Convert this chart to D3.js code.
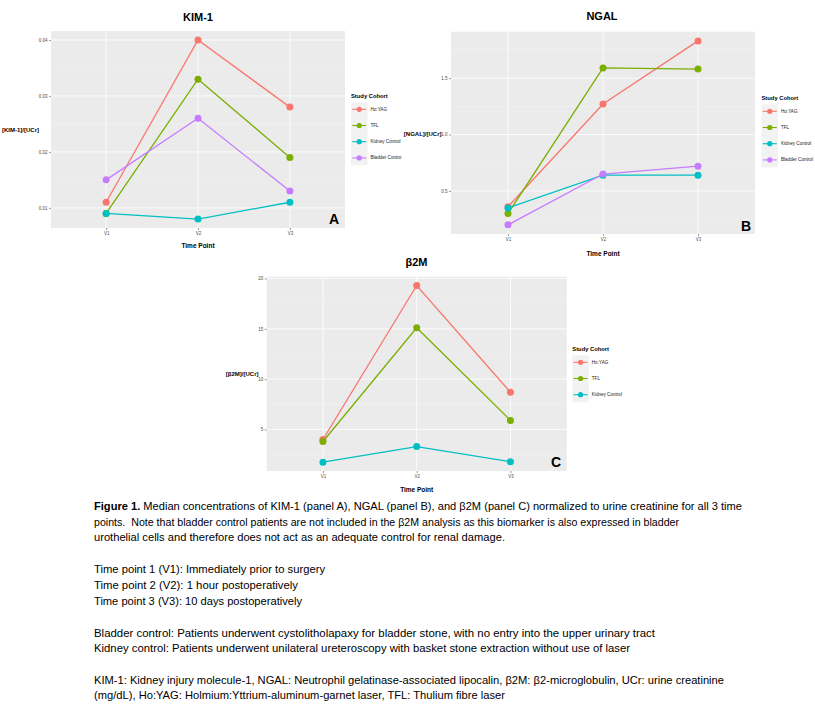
<!DOCTYPE html>
<html>
<head>
<meta charset="utf-8">
<script src="https://cdn.jsdelivr.net/npm/d3@7"></script>
<style>
  html, body { margin: 0; padding: 0; background: #ffffff; }
  svg { display: block; }
</style>
</head>
<body>
<svg id="chart" width="815" height="710"></svg>
<script>
// ---------------- DATA ----------------
const categories = ["V1", "V2", "V3"];
const cohortNames = ["Ho:YAG", "TFL", "Kidney Control", "Bladder Control"];
const cohortColors = ["#F8766D", "#7CAE00", "#00BFC4", "#C77CFF"];
const legendLabelsA = ["Ho:YAG", "TFL", "Kidney Control", "Bladder Contro"];
const legendLabelsB = ["Ho:YAG", "TFL", "Kidney Control", "Bladder Control"];
const legendLabelsC = ["Ho:YAG", "TFL", "Kidney Control"];

// Panel A: KIM-1
const kimHoYAG   = [0.011, 0.040, 0.028];
const kimTFL     = [0.009, 0.033, 0.019];
const kimKidney  = [0.009, 0.008, 0.011];
const kimBladder = [0.015, 0.026, 0.013];
const kimTicks   = [0.01, 0.02, 0.03, 0.04];

// Panel B: NGAL
const ngalHoYAG   = [0.36, 1.27, 1.83];
const ngalTFL     = [0.30, 1.59, 1.58];
const ngalKidney  = [0.35, 0.64, 0.64];
const ngalBladder = [0.20, 0.65, 0.72];
const ngalTicks   = [0.5, 1.0, 1.5];

// Panel C: beta2M
const b2mHoYAG  = [4.0, 19.3, 8.7];
const b2mTFL    = [3.8, 15.1, 5.9];
const b2mKidney = [1.75, 3.3, 1.8];
const b2mTicks  = [5, 10, 15, 20];

const captionLines = [
  {bold: "Figure 1.", text: " Median concentrations of KIM-1 (panel A), NGAL (panel B), and \u03B22M (panel C) normalized to urine creatinine for all 3 time"},
  {bold: "", text: "points.  Note that bladder control patients are not included in the \u03B22M analysis as this biomarker is also expressed in bladder"},
  {bold: "", text: "urothelial cells and therefore does not act as an adequate control for renal damage."},
  {bold: "", text: "Time point 1 (V1): Immediately prior to surgery"},
  {bold: "", text: "Time point 2 (V2): 1 hour postoperatively"},
  {bold: "", text: "Time point 3 (V3): 10 days postoperatively"},
  {bold: "", text: "Bladder control: Patients underwent cystolitholapaxy for bladder stone, with no entry into the upper urinary tract"},
  {bold: "", text: "Kidney control: Patients underwent unilateral ureteroscopy with basket stone extraction without use of laser"},
  {bold: "", text: "KIM-1: Kidney injury molecule-1, NGAL: Neutrophil gelatinase-associated lipocalin, \u03B22M: \u03B22-microglobulin, UCr: urine creatinine"},
  {bold: "", text: "(mg/dL), Ho:YAG: Holmium:Yttrium-aluminum-garnet laser, TFL: Thulium fibre laser"}
];

// ---------------- LAYOUT ----------------
const svg = d3.select("#chart");
const FONT = "Liberation Sans, Arial, sans-serif";

const panels = [
  {
    title: "KIM-1", yTitle: "[KIM-1]/[UCr]", letter: "A",
    series: [kimHoYAG, kimTFL, kimKidney, kimBladder], ticks: kimTicks,
    fmt: d3.format(".2f"), legend: legendLabelsA,
    box: {l: 51, r: 345, t: 31, b: 228},
    titlePos: [198, 17], xTitleY: 245, yTitlePos: [39, 130], letterPos: [334, 219],
    legendPos: [351, 96.3]
  },
  {
    title: "NGAL", yTitle: "[NGAL]/[UCr]", letter: "B",
    series: [ngalHoYAG, ngalTFL, ngalKidney, ngalBladder], ticks: ngalTicks,
    fmt: d3.format(".1f"), legend: legendLabelsB,
    box: {l: 451, r: 755, t: 31.7, b: 234},
    titlePos: [602, 16], xTitleY: 253, yTitlePos: [441.5, 134], letterPos: [746, 226],
    legendPos: [761.5, 98.3]
  },
  {
    title: "\u03B22M", yTitle: "[\u03B22M]/[UCr]", letter: "C",
    series: [b2mHoYAG, b2mTFL, b2mKidney], ticks: b2mTicks,
    fmt: d3.format("d"), legend: legendLabelsC,
    box: {l: 266.7, r: 566.7, t: 276.7, b: 471},
    titlePos: [416.5, 262], xTitleY: 489, yTitlePos: [258.5, 374], letterPos: [556, 462],
    legendPos: [572.3, 349.3]
  }
];

function drawPanel(p) {
  const g = svg.append("g");
  const all = p.series.flat();
  const ext = d3.extent(all);
  const pad = (ext[1] - ext[0]) * 0.05;

  const y = d3.scaleLinear().domain([ext[0] - pad, ext[1] + pad]).range([p.box.b, p.box.t]);
  // ggplot discrete expansion: 0.6 units each side, i.e. positions 1..3 within [0.4, 3.6]
  const xPos = d3.scaleLinear().domain([0.4, 3.6]).range([p.box.l, p.box.r]);
  const xc = c => xPos(categories.indexOf(c) + 1);

  // panel background
  g.append("rect")
    .attr("x", p.box.l).attr("y", p.box.t)
    .attr("width", p.box.r - p.box.l).attr("height", p.box.b - p.box.t)
    .attr("fill", "#EBEBEB");

  // minor gridlines
  const step = p.ticks[1] - p.ticks[0];
  const minor = [];
  for (let v = p.ticks[0] - step / 2; v <= ext[1] + pad; v += step) {
    if (v >= ext[0] - pad) minor.push(v);
  }
  g.selectAll(".minor").data(minor).enter().append("line")
    .attr("x1", p.box.l).attr("x2", p.box.r)
    .attr("y1", d => y(d)).attr("y2", d => y(d))
    .attr("stroke", "#F5F5F5").attr("stroke-width", 0.5);

  // major gridlines
  g.selectAll(".major").data(p.ticks).enter().append("line")
    .attr("x1", p.box.l).attr("x2", p.box.r)
    .attr("y1", d => y(d)).attr("y2", d => y(d))
    .attr("stroke", "#FFFFFF").attr("stroke-width", 0.8);
  g.selectAll(".vmajor").data(categories).enter().append("line")
    .attr("x1", d => xc(d)).attr("x2", d => xc(d))
    .attr("y1", p.box.t).attr("y2", p.box.b)
    .attr("stroke", "#FFFFFF").attr("stroke-width", 0.8);

  // y axis
  const yAxis = d3.axisLeft(y).tickValues(p.ticks).tickFormat(p.fmt).tickSize(2).tickPadding(1.5);
  const ya = g.append("g").attr("transform", `translate(${p.box.l},0)`).call(yAxis);
  ya.select(".domain").remove();
  ya.selectAll(".tick line").attr("stroke", "#333333").attr("stroke-width", 0.5);
  ya.selectAll(".tick text").attr("fill", "#4D4D4D").style("font-size", "4.5px").style("font-family", FONT);

  // x axis
  const xAxis = d3.axisBottom(xPos).tickValues([1, 2, 3]).tickFormat(d => categories[d - 1]).tickSize(2).tickPadding(1.5);
  const xa = g.append("g").attr("transform", `translate(0,${p.box.b})`).call(xAxis);
  xa.select(".domain").remove();
  xa.selectAll(".tick line").attr("stroke", "#333333").attr("stroke-width", 0.5);
  xa.selectAll(".tick text").attr("fill", "#4D4D4D").style("font-size", "4.5px").style("font-family", FONT);

  // lines
  const line = d3.line().x((d, i) => xc(categories[i])).y(d => y(d));
  p.series.forEach((s, k) => {
    g.append("path").datum(s).attr("d", line)
      .attr("fill", "none").attr("stroke", cohortColors[k]).attr("stroke-width", 1.3);
  });
  // points
  p.series.forEach((s, k) => {
    g.selectAll(".pt" + k).data(s).enter().append("circle")
      .attr("cx", (d, i) => xc(categories[i])).attr("cy", d => y(d))
      .attr("r", 3.5).attr("fill", cohortColors[k]);
  });

  // titles
  g.append("text").attr("x", p.titlePos[0]).attr("y", p.titlePos[1])
    .attr("text-anchor", "middle").attr("dominant-baseline", "central")
    .style("font-family", FONT).style("font-weight", "bold").style("font-size", "11px")
    .text(p.title);
  g.append("text").attr("x", (p.box.l + p.box.r) / 2).attr("y", p.xTitleY)
    .attr("text-anchor", "middle").attr("dominant-baseline", "central")
    .style("font-family", FONT).style("font-weight", "bold").style("font-size", "6.5px")
    .text("Time Point");
  g.append("text").attr("x", p.yTitlePos[0]).attr("y", p.yTitlePos[1])
    .attr("text-anchor", "end").attr("dominant-baseline", "central")
    .style("font-family", FONT).style("font-weight", "bold").style("font-size", "6px")
    .text(p.yTitle);
  g.append("text").attr("x", p.letterPos[0]).attr("y", p.letterPos[1])
    .attr("text-anchor", "middle").attr("dominant-baseline", "central")
    .style("font-family", FONT).style("font-weight", "bold").style("font-size", "14px")
    .text(p.letter);

  // legend
  const lx = p.legendPos[0], ly = p.legendPos[1];
  const gap = 16.2;
  const n = p.legend.length;
  g.append("text").attr("x", lx).attr("y", ly).attr("dominant-baseline", "central")
    .style("font-family", FONT).style("font-weight", "bold").style("font-size", "5.8px")
    .text("Study Cohort");
  g.append("rect").attr("x", lx).attr("y", ly + 6)
    .attr("width", 16.5).attr("height", (n - 1) * gap + 14.5)
    .attr("fill", "#F2F2F2");
  p.legend.forEach((lab, k) => {
    const cy = ly + 13 + k * gap;
    g.append("line").attr("x1", lx + 1.2).attr("x2", lx + 15.3)
      .attr("y1", cy).attr("y2", cy)
      .attr("stroke", cohortColors[k]).attr("stroke-width", 1.1);
    g.append("circle").attr("cx", lx + 8.25).attr("cy", cy).attr("r", 2.6).attr("fill", cohortColors[k]);
    g.append("text").attr("x", lx + 19.5).attr("y", cy).attr("dominant-baseline", "central")
      .attr("fill", "#1A1A1A")
      .style("font-family", FONT).style("font-size", "4.6px")
      .text(lab);
  });
}

panels.forEach(drawPanel);

// ---------------- CAPTION ----------------
const capY = [506, 521.5, 537, 569, 585, 601, 632.5, 648, 679.5, 695];
const capEnd = [742, 679, 505, 325, 298, 302, 655, 630, 724, 505];
const capX = 94;
const capFont = "Liberation Sans Narrow, Liberation Sans, Arial, sans-serif";
captionLines.forEach((ln, i) => {
  const t = svg.append("text")
    .attr("x", capX).attr("y", capY[i]).attr("dominant-baseline", "central")
    .attr("textLength", capEnd[i] - capX).attr("lengthAdjust", "spacingAndGlyphs")
    .style("white-space", "pre")
    .style("font-family", capFont).style("font-size", "11.5px").attr("fill", "#000000");
  if (ln.bold) t.append("tspan").style("font-weight", "bold").text(ln.bold);
  t.append("tspan").text(ln.text);
});
</script>
</body>
</html>
